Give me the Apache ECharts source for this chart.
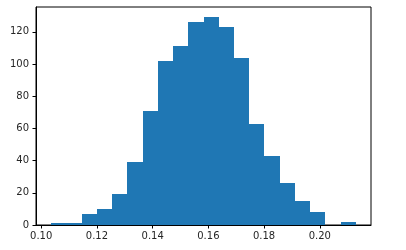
<!DOCTYPE html>
<html>
<head>
<meta charset="utf-8">
<script src="https://cdn.jsdelivr.net/npm/echarts@6/dist/echarts.min.js"></script>
<style>html,body{margin:0;padding:0;background:#fff;}#c{width:406px;height:250px;}</style>
</head>
<body>
<div id="c"></div>
<script>
// Histogram counts (20 bins)
const counts = [1, 1, 7, 10, 19, 39, 71, 102, 111, 126, 129, 123, 104, 63, 43, 26, 15, 8, 0, 2];
// Range covered by the bins
const binStart = 0.1036;
const binEnd = 0.2129;
// Tick labels
const xTicks = [0.10, 0.12, 0.14, 0.16, 0.18, 0.20];
const yTicks = [0, 20, 40, 60, 80, 100, 120];

const n = counts.length;
const w = (binEnd - binStart) / n;
const pad = (binEnd - binStart) * 0.05;
const maxCount = Math.max.apply(null, counts);
const data = counts.map((c, i) => [binStart + i * w, binStart + (i + 1) * w, c]);

const chart = echarts.init(document.getElementById('c'), null, {renderer: 'canvas'});
const font = 'DejaVu Sans';
chart.setOption({
  animation: false,
  grid: {left: 36, right: 35, top: 7, bottom: 25, show: true, borderColor: '#000', borderWidth: 1, backgroundColor: 'transparent'},
  xAxis: {
    type: 'value', min: binStart - pad, max: binEnd + pad,
    axisLine: {show: true, onZero: false, lineStyle: {color: '#000', width: 1}},
    axisTick: {show: true, length: 3.5, lineStyle: {color: '#000'}, customValues: xTicks},
    axisLabel: {customValues: xTicks, color: '#262626', fontFamily: font, fontSize: 10, margin: 6,
      formatter: v => v.toFixed(2)},
    splitLine: {show: false}
  },
  yAxis: {
    type: 'value', min: 0, max: maxCount * 1.05,
    axisLine: {show: true, lineStyle: {color: '#000', width: 1}},
    axisTick: {show: true, length: 3.5, lineStyle: {color: '#000'}, customValues: yTicks},
    axisLabel: {customValues: yTicks, color: '#262626', fontFamily: font, fontSize: 10, margin: 7,
      formatter: v => String(Math.round(v))},
    splitLine: {show: false}
  },
  series: [{
    type: 'custom',
    data: data,
    z: 1,
    renderItem: function (params, api) {
      if (api.value(2) <= 0) return null;
      const p0 = api.coord([api.value(0), api.value(2)]);
      const p1 = api.coord([api.value(1), 0]);
      const x0 = Math.round(p0[0]), x1 = Math.round(p1[0]);
      const y0 = Math.round(p0[1]), y1 = Math.round(p1[1]);
      return {
        type: 'rect',
        shape: {x: x0, y: y0, width: x1 - x0, height: y1 - y0},
        style: {fill: '#1f77b4'}
      };
    },
    encode: {x: [0, 1], y: 2}
  }]
});
</script>
</body>
</html>
